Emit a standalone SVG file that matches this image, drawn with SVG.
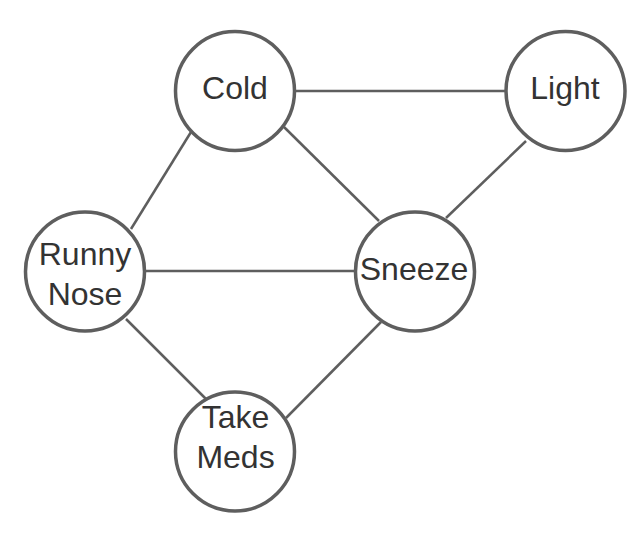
<svg xmlns="http://www.w3.org/2000/svg" width="642" height="560" viewBox="0 0 642 560">
<style>
.node circle { fill: #ffffff; stroke: #5e5e5e; stroke-width: 3.5; }
.node text { font-family: "Liberation Sans", Arial, sans-serif; font-size: 32px; fill: #333333; text-anchor: middle; }
.edges line { stroke: #5e5e5e; stroke-width: 2.5; }
</style>
<rect width="642" height="560" fill="#ffffff"/>
<g id="connectors" class="edges">
<line x1="294" y1="91" x2="507" y2="91"/>
<line x1="191" y1="132" x2="131" y2="229"/>
<line x1="284" y1="127" x2="379" y2="221"/>
<line x1="526" y1="141" x2="446" y2="218"/>
<line x1="145" y1="271" x2="356" y2="271"/>
<line x1="126" y1="319" x2="206" y2="399"/>
<line x1="381" y1="322" x2="286" y2="418"/>
</g>
<g id="node-cold" class="node">
<circle cx="235" cy="91" r="59.5"/>
<text x="235" y="98.5">Cold</text>
</g>
<g id="node-light" class="node">
<circle cx="565.5" cy="91" r="59.5"/>
<text x="565" y="98.5">Light</text>
</g>
<g id="node-runny-nose" class="node">
<circle cx="85" cy="271.5" r="59.5"/>
<text x="85" y="265">Runny</text>
<text x="85" y="305">Nose</text>
</g>
<g id="node-sneeze" class="node">
<circle cx="415" cy="271.5" r="59.5"/>
<text x="414" y="279.5">Sneeze</text>
</g>
<g id="node-take-meds" class="node">
<circle cx="235" cy="451.5" r="59.5"/>
<text x="235.5" y="428">Take</text>
<text x="235.5" y="468">Meds</text>
</g>
</svg>
